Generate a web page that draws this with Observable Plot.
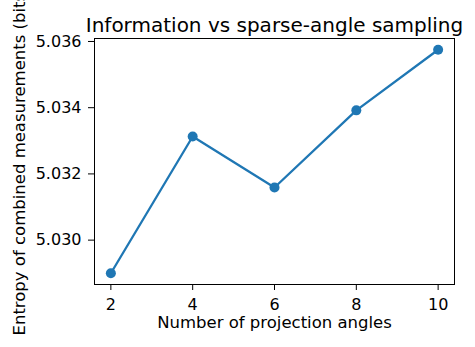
<!DOCTYPE html>
<html>
<head>
<meta charset="utf-8">
<script src="https://cdn.jsdelivr.net/npm/d3@7"></script>
<script src="https://cdn.jsdelivr.net/npm/@observablehq/plot@0.6"></script>
<style>
  html, body { margin: 0; padding: 0; background: #fff; }
</style>
</head>
<body>
<div id="chart"></div>
<script>
const angles = [2, 4, 6, 8, 10];
const entropy = [5.0290, 5.03313, 5.03159, 5.03392, 5.03575];
const xTicks = [2, 4, 6, 8, 10];
const yTicks = [5.030, 5.032, 5.034, 5.036];
const titleText = "Information vs sparse-angle sampling";
const xLabel = "Number of projection angles";
const yLabel = "Entropy of combined measurements (bits)";

const data = angles.map((a, i) => ({angle: a, entropy: entropy[i]}));
const color = "#1f77b4";
const font = "DejaVu Sans, sans-serif";

const chart = Plot.plot({
  width: 475,
  height: 347,
  marginLeft: 94,
  marginRight: 21,
  marginTop: 38,
  marginBottom: 63,
  style: {fontFamily: font, fontSize: "16px", color: "#000", background: "#fff"},
  x: {domain: [1.6, 10.4]},
  y: {domain: [5.02866, 5.03609]},
  marks: [
    Plot.axisX(xTicks, {tickSize: 6, tickPadding: 8, label: null, fontSize: 16, stroke: "#000", strokeWidth: 1}),
    Plot.axisY(yTicks, {tickSize: 6, tickPadding: 7, label: null, fontSize: 16, tickFormat: d3.format(".3f"), stroke: "#000", strokeWidth: 1}),
    Plot.frame({stroke: "#000", strokeWidth: 1}),
    Plot.line(data, {x: "angle", y: "entropy", stroke: color, strokeWidth: 2.3}),
    Plot.dot(data, {x: "angle", y: "entropy", r: 5, fill: color, stroke: "none"}),
    Plot.text([titleText], {frameAnchor: "top", lineAnchor: "bottom", dy: -7, fontSize: 20, fill: "#000"}),
    Plot.text([xLabel], {frameAnchor: "bottom", lineAnchor: "top", dy: 32, fontSize: 16.5, fill: "#000"}),
    Plot.text([yLabel], {frameAnchor: "bottom-left", rotate: -90, textAnchor: "start", lineAnchor: "middle", dx: -75, dy: 51, fontSize: 16.5, fill: "#000"})
  ]
});
document.getElementById("chart").appendChild(chart);
</script>
</body>
</html>
